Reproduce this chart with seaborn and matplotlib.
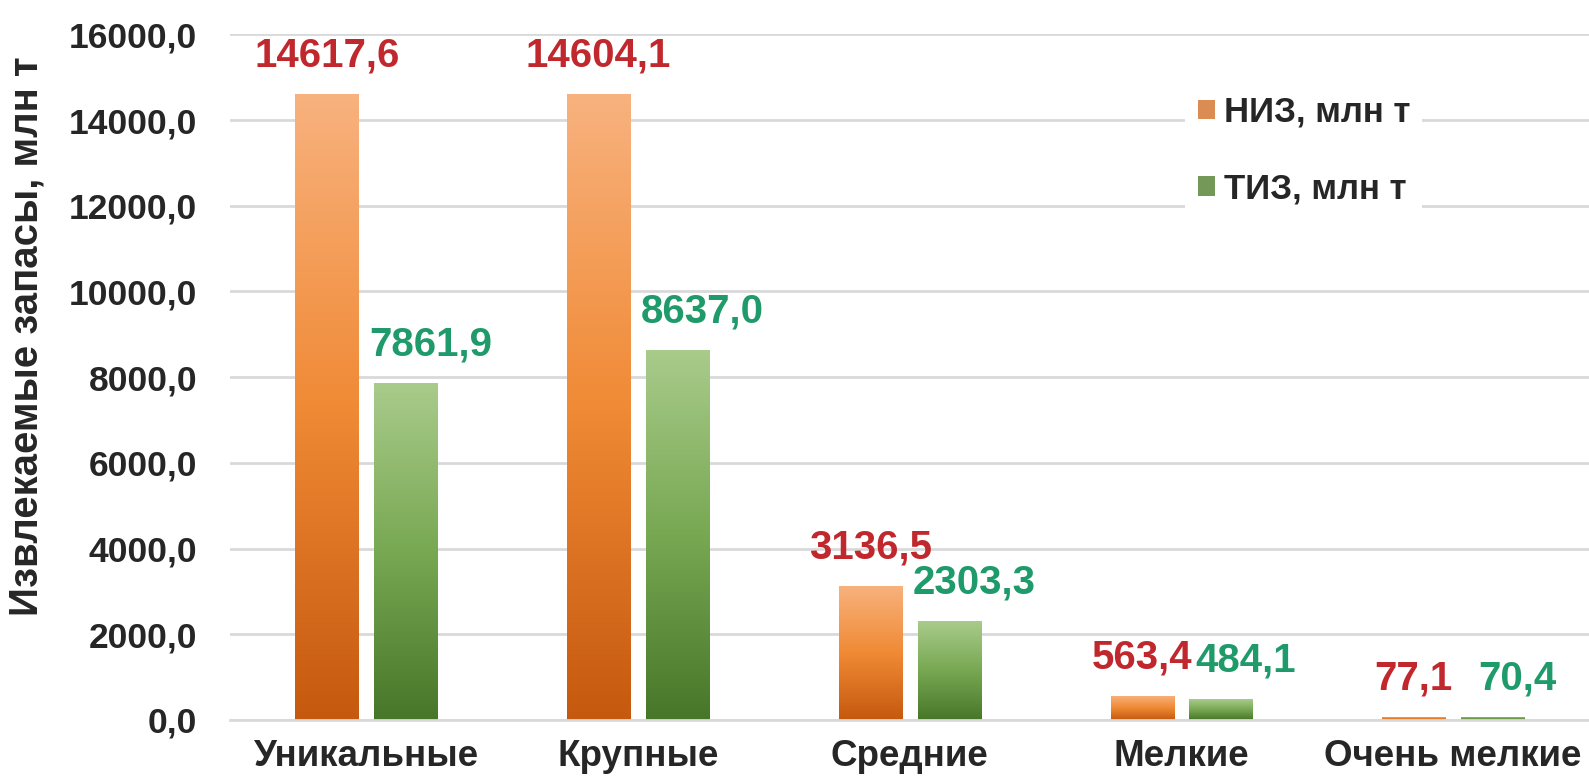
import numpy as np
import pandas as pd
import matplotlib
matplotlib.use("Agg")
import matplotlib.pyplot as plt
import seaborn as sns
from matplotlib.colors import LinearSegmentedColormap

# Data
categories = ["Уникальные", "Крупные", "Средние", "Мелкие", "Очень мелкие"]
niz_values = [14617.6, 14604.1, 3136.5, 563.4, 77.1]
tiz_values = [7861.9, 8637.0, 2303.3, 484.1, 70.4]
series_names = ["НИЗ, млн т", "ТИЗ, млн т"]
y_ticks = [0, 2000, 4000, 6000, 8000, 10000, 12000, 14000, 16000]

df = pd.DataFrame({
    "category": categories * 2,
    "value": niz_values + tiz_values,
    "series": [series_names[0]] * len(categories) + [series_names[1]] * len(categories),
})

sns.set_style("white")
plt.rcParams["font.family"] = ["Liberation Sans", "DejaVu Sans"]
plt.rcParams["font.weight"] = "bold"

fig = plt.figure(figsize=(15.89, 7.80), dpi=100)
ax = fig.add_axes([0.145, 0.077, 0.855, 0.879])

ax.yaxis.grid(True, color="#d9d9d9", linewidth=2)
ax.set_axisbelow(True)

sns.barplot(data=df, x="category", y="value", hue="series", order=categories,
            palette=["#f0893c", "#73a34d"], width=0.58, gap=0.2,
            edgecolor="none", ax=ax)

# gradient fill for bars (light at top, dark at bottom)
cmaps = [
    LinearSegmentedColormap.from_list("niz", ["#c5590f", "#f08a35", "#f8b27e"]),
    LinearSegmentedColormap.from_list("tiz", ["#477629", "#78a852", "#a9cb8b"]),
]
label_colors = ["#c0282d", "#1f9a6a"]
label_dx = [0, 18]
grad = np.linspace(0, 1, 256).reshape(-1, 1)
for cont, cmap, lc, dx in zip(ax.containers, cmaps, label_colors, label_dx):
    for bar in cont:
        x0, y0 = bar.get_x(), bar.get_y()
        w, h = bar.get_width(), bar.get_height()
        im = ax.imshow(grad, cmap=cmap, origin="lower", aspect="auto",
                       extent=[x0, x0 + w, y0, y0 + h], zorder=2)
        im.set_clip_path(bar)
        bar.set_facecolor("none")
        ax.annotate(f"{h:.1f}".replace(".", ","), (x0 + w / 2, y0 + h),
                    xytext=(dx, 14), textcoords="offset points",
                    ha="center", va="bottom", color=lc,
                    fontsize=29, fontweight="bold", zorder=5)

ax.set_xlim(-0.5, 4.5)
ax.set_ylim(0, 16000)
ax.set_yticks(y_ticks)
ax.set_yticklabels([f"{t:.1f}".replace(".", ",") for t in y_ticks])
ax.tick_params(axis="y", labelsize=25.5, length=0, pad=24)
ax.tick_params(axis="x", labelsize=26.5, length=0, pad=14)
for lbl in ax.get_xticklabels() + ax.get_yticklabels():
    lbl.set_fontweight("bold")
ax.set_xlabel("")
ax.set_ylabel("Извлекаемые запасы, млн т", fontsize=29, fontweight="bold")
ax.yaxis.set_label_coords(-0.136, 0.56)
sns.despine(ax=ax, left=True, right=True, top=True)
ax.spines["bottom"].set_color("#d9d9d9")
ax.spines["bottom"].set_linewidth(2)

leg = ax.legend(loc="upper left", bbox_to_anchor=(0.703, 0.928), frameon=True,
                fontsize=25, handlelength=0.5, handleheight=0.5,
                handletextpad=0.25, labelspacing=1.25, borderpad=0.35,
                borderaxespad=0)
leg.get_frame().set_edgecolor("none")
leg.get_frame().set_facecolor("white")
leg.get_frame().set_alpha(1)
for t in leg.get_texts():
    t.set_fontweight("bold")

fig.savefig("out.png", dpi=100)
